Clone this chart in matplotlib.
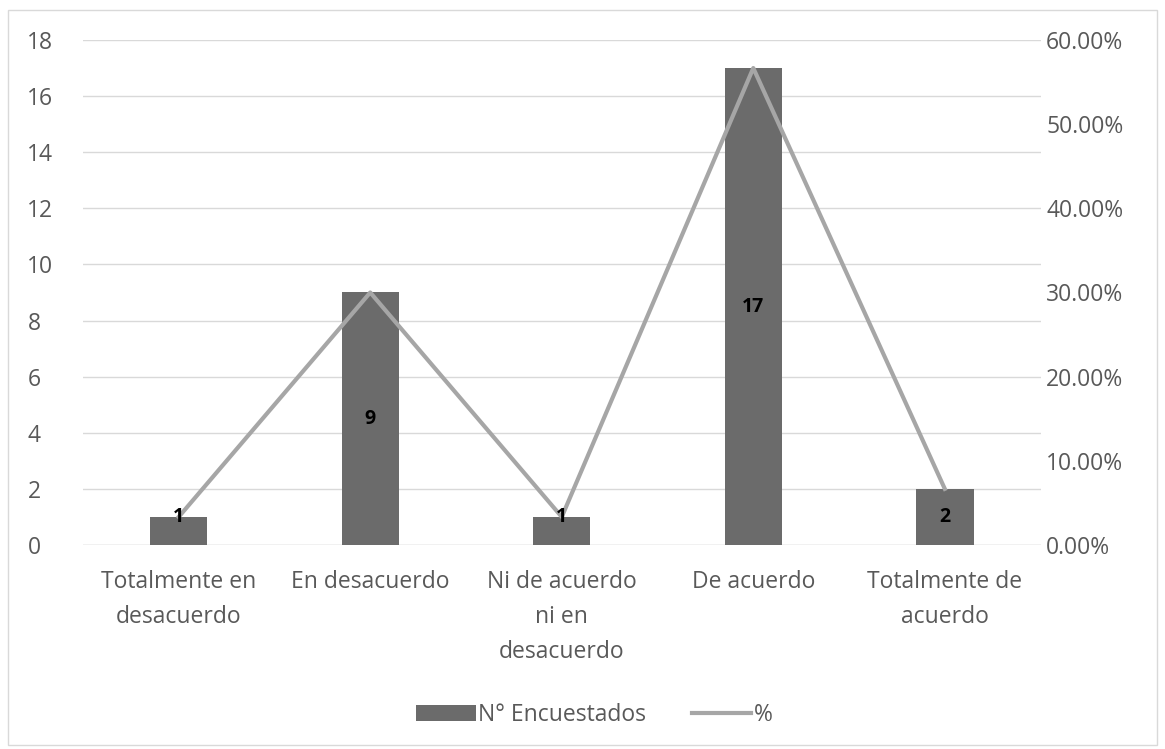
import matplotlib.pyplot as plt
from matplotlib.patches import Rectangle
from matplotlib.ticker import FuncFormatter

categories = ['Totalmente en\ndesacuerdo', 'En desacuerdo', 'Ni de acuerdo\nni en\ndesacuerdo',
              'De acuerdo', 'Totalmente de\nacuerdo']
encuestados = [1, 9, 1, 17, 2]
total = sum(encuestados)
porcentaje = [v / total for v in encuestados]

bar_color = '#6b6b6b'
line_color = '#a6a6a6'
text_color = '#595959'
grid_color = '#d9d9d9'
fs = 16.5

plt.rcParams['font.family'] = ['Open Sans', 'DejaVu Sans']

fig = plt.figure(figsize=(11.65, 7.49), dpi=100)
fig.patches.append(Rectangle((8 / 1165, 4 / 749), 1149 / 1165, 735 / 749,
                             transform=fig.transFigure, fill=False,
                             edgecolor='#d9d9d9', linewidth=1))

ax = fig.add_axes([0.0712, 0.2724, 0.822, 0.6742])
x = list(range(len(categories)))
bars = ax.bar(x, encuestados, width=0.30, color=bar_color, zorder=2,
              label='N° Encuestados')
ax.set_ylim(0, 18)
ax.set_yticks(range(0, 19, 2))
ax.set_xlim(-0.5, 4.5)
ax.set_xticks(x)
ax.set_xticklabels(categories, fontsize=fs, color=text_color, linespacing=1.62)
ax.tick_params(axis='both', length=0, colors=text_color, labelsize=fs)
ax.tick_params(axis='x', pad=18)
ax.tick_params(axis='y', pad=40)
for lbl in ax.get_yticklabels():
    lbl.set_horizontalalignment('left')
ax.grid(axis='y', color=grid_color, linewidth=1, zorder=0)
ax.set_axisbelow(True)
for s in ax.spines.values():
    s.set_visible(False)
ax.axhline(0, color=grid_color, linewidth=1, zorder=1)

ax2 = ax.twinx()
line, = ax2.plot(x, porcentaje, color=line_color, linewidth=3, zorder=3, label='%')
ax2.set_ylim(0, 0.6)
ax2.set_yticks([i / 10 for i in range(7)])
ax2.yaxis.set_major_formatter(FuncFormatter(lambda v, p: f'{v * 100:.2f}%'))
ax2.tick_params(axis='y', length=0, colors=text_color, labelsize=fs, pad=4)
for s in ax2.spines.values():
    s.set_visible(False)

# values centred in the bar; short bars get the label at the top.
# drawn on ax2 so they sit above the % line
for xi, v in zip(x, encuestados):
    ypos = v / 2 if v > 1 else v
    ax2.text(xi, ypos, str(v), transform=ax.transData, ha='center', va='center',
             fontsize=14, fontweight='bold', color='black', zorder=4)

fig.legend([bars, line], ['N° Encuestados', '%'], loc='center',
           bbox_to_anchor=(0.51, 0.046), ncol=2, frameon=False, fontsize=fs,
           labelcolor=text_color, handlelength=2.6, handletextpad=0.1,
           columnspacing=2.0)

fig.savefig('out.png', dpi=100)
